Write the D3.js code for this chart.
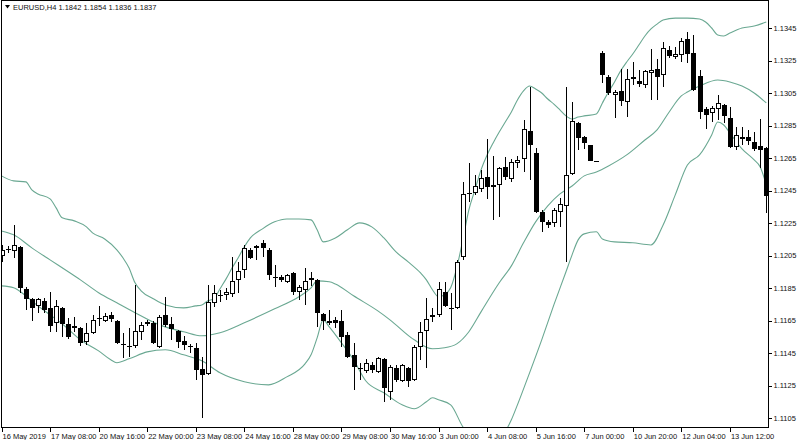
<!DOCTYPE html>
<html><head><meta charset="utf-8">
<script src="https://cdn.jsdelivr.net/npm/d3@7/dist/d3.min.js"></script>
<style>
body{margin:0;background:#fff}
svg{display:block}
text{font-family:Tahoma,"Liberation Sans",Arial,sans-serif;font-size:7.5px;fill:#111}
</style>
</head><body><svg id="c" width="800" height="440"></svg>
<script>
const title = "EURUSD,H4  1.1842 1.1854 1.1836 1.1837";
const xTickBars = [0,8,16,24,32,40,48,56,64,72,80,88,96,104,112,120];
const xTickLabels = ["16 May 2019","17 May 08:00","20 May 16:00","22 May 00:00","23 May 08:00","24 May 16:00","28 May 00:00","29 May 08:00","30 May 16:00","3 Jun 00:00","4 Jun 08:00","5 Jun 16:00","7 Jun 00:00","10 Jun 20:00","12 Jun 04:00","13 Jun 12:00"];
const yTicks = [1.1345,1.1325,1.1305,1.1285,1.1265,1.1245,1.1225,1.1205,1.1185,1.1165,1.1145,1.1125,1.1105];
// open, high, low, close per H4 bar
const ohlc = [
[1.12048,1.12115,1.12011,1.12085],[1.12091,1.12109,1.12067,1.12085],[1.12079,1.12238,1.12036,1.12115],[1.12103,1.12109,1.11821,1.11851],
[1.11845,1.11857,1.11716,1.11784],[1.11784,1.11790,1.11648,1.11728],[1.11740,1.11790,1.11698,1.11784],[1.11771,1.11790,1.11698,1.11716],
[1.11728,1.11827,1.11581,1.11617],[1.11636,1.11777,1.11581,1.11740],[1.11728,1.11734,1.11550,1.11629],[1.11629,1.11666,1.11538,1.11550],
[1.11605,1.11672,1.11581,1.11617],[1.11605,1.11611,1.11494,1.11513],[1.11519,1.11636,1.11501,1.11575],[1.11575,1.11685,1.11568,1.11654],
[1.11666,1.11740,1.11617,1.11660],[1.11648,1.11698,1.11642,1.11679],[1.11685,1.11703,1.11642,1.11660],[1.11648,1.11654,1.11506,1.11513],
[1.11507,1.11575,1.11421,1.11501],[1.11494,1.11605,1.11427,1.11488],[1.11494,1.11869,1.11482,1.11587],[1.11581,1.11642,1.11531,1.11623],
[1.11629,1.11654,1.11617,1.11642],[1.11636,1.11648,1.11506,1.11513],[1.11488,1.11685,1.11482,1.11672],[1.11685,1.11796,1.11611,1.11623],
[1.11629,1.11672,1.11531,1.11599],[1.11587,1.11593,1.11482,1.11519],[1.11525,1.11556,1.11470,1.11501],[1.11494,1.11506,1.11452,1.11488],
[1.11482,1.11513,1.11285,1.11347],[1.11353,1.11427,1.11051,1.11316],[1.11322,1.11869,1.11316,1.11765],[1.11759,1.11869,1.11734,1.11821],
[1.11808,1.11839,1.11765,1.11802],[1.11808,1.11851,1.11777,1.11827],[1.11814,1.12042,1.11796,1.11894],[1.11900,1.12011,1.11821,1.11956],
[1.11962,1.12115,1.11913,1.12097],[1.12085,1.12097,1.12030,1.12036],[1.12097,1.12115,1.12023,1.12109],[1.12128,1.12146,1.12042,1.12097],
[1.12085,1.12097,1.11900,1.11931],[1.11919,1.11993,1.11857,1.11913],[1.11919,1.11931,1.11888,1.11900],[1.11888,1.11937,1.11882,1.11931],
[1.11944,1.11950,1.11808,1.11827],[1.11827,1.11869,1.11777,1.11857],[1.11839,1.11974,1.11746,1.11894],[1.11900,1.11950,1.11863,1.11913],
[1.11900,1.11906,1.11611,1.11698],[1.11691,1.11698,1.11593,1.11648],[1.11636,1.11716,1.11623,1.11648],[1.11654,1.11672,1.11605,1.11636],
[1.11648,1.11716,1.11488,1.11550],[1.11562,1.11581,1.11421,1.11427],[1.11439,1.11513,1.11224,1.11365],[1.11359,1.11390,1.11285,1.11353],
[1.11341,1.11414,1.11329,1.11390],[1.11378,1.11396,1.11329,1.11347],[1.11335,1.11427,1.11329,1.11421],[1.11414,1.11421,1.11150,1.11236],
[1.11212,1.11378,1.11162,1.11365],[1.11359,1.11378,1.11273,1.11285],[1.11279,1.11384,1.11273,1.11378],[1.11359,1.11365,1.11242,1.11279],
[1.11285,1.11501,1.11279,1.11488],[1.11488,1.11642,1.11408,1.11581],[1.11587,1.11790,1.11359,1.11660],[1.11672,1.11728,1.11642,1.11685],
[1.11685,1.11888,1.11672,1.11845],[1.11827,1.11888,1.11734,1.11740],[1.11728,1.11821,1.11593,1.11722],[1.11728,1.12023,1.11722,1.12011],
[1.12042,1.12503,1.12023,1.12429],[1.12436,1.12620,1.12380,1.12429],[1.12436,1.12546,1.12423,1.12478],[1.12460,1.12577,1.12442,1.12528],
[1.12534,1.12768,1.12398,1.12472],[1.12484,1.12663,1.12269,1.12472],[1.12484,1.12595,1.12288,1.12589],[1.12595,1.12657,1.12515,1.12534],
[1.12521,1.12644,1.12503,1.12626],[1.12620,1.12663,1.12589,1.12638],[1.12644,1.12884,1.12565,1.12829],[1.12817,1.13087,1.12515,1.12730],
[1.12681,1.12712,1.12313,1.12319],[1.12319,1.12331,1.12196,1.12257],[1.12257,1.12269,1.12220,1.12238],[1.12251,1.12343,1.12226,1.12331],
[1.12319,1.12404,1.12226,1.12367],[1.12355,1.13087,1.12011,1.12546],[1.12552,1.12995,1.12546,1.12878],[1.12866,1.12872,1.12700,1.12774],
[1.12780,1.12786,1.12706,1.12743],[1.12730,1.12730,1.12632,1.12632],[1.12632,1.12632,1.12626,1.12626],[1.13297,1.13309,1.13112,1.13161],
[1.13149,1.13161,1.13038,1.13050],[1.13038,1.13069,1.12896,1.13056],[1.13063,1.13198,1.12970,1.13001],[1.12995,1.13198,1.12902,1.13136],
[1.13149,1.13241,1.13099,1.13136],[1.13124,1.13192,1.13087,1.13105],[1.13099,1.13192,1.13081,1.13186],[1.13173,1.13321,1.13007,1.13192],
[1.13198,1.13259,1.13007,1.13149],[1.13161,1.13364,1.13087,1.13327],[1.13315,1.13339,1.13265,1.13278],[1.13272,1.13333,1.13259,1.13290],
[1.13284,1.13388,1.13241,1.13370],[1.13382,1.13425,1.13235,1.13290],[1.13297,1.13407,1.13063,1.13069],[1.13155,1.13192,1.12890,1.12933],
[1.12952,1.12964,1.12829,1.12915],[1.12927,1.12970,1.12872,1.12958],[1.12952,1.13038,1.12884,1.12989],[1.12976,1.12983,1.12866,1.12909],
[1.12896,1.12964,1.12712,1.12718],[1.12718,1.12841,1.12700,1.12792],[1.12780,1.12841,1.12730,1.12768],[1.12780,1.12823,1.12730,1.12755],
[1.12749,1.12810,1.12694,1.12706],[1.12724,1.12890,1.12589,1.12700],[1.12712,1.12718,1.12313,1.12417]
];
// Bollinger bands: [bar index, price]
const upperBand = [[0,1.12540],[2,1.12509],[4,1.12503],[5,1.12454],[6,1.12429],[8,1.12398],[9,1.12343],[10,1.12282],[12,1.12263],[14,1.12226],[15,1.12189],[17,1.12152],[19,1.12085],[20,1.12036],[21,1.11974],[22,1.11882],[23,1.11833],[25,1.11784],[27,1.11746],[30,1.11728],[32,1.11740],[33,1.11746],[34,1.11771],[35,1.11784],[36,1.11845],[37,1.11906],[38,1.11974],[39,1.12036],[40,1.12103],[41,1.12158],[43,1.12214],[45,1.12257],[47,1.12275],[49,1.12275],[51,1.12269],[52,1.12208],[53,1.12134],[55,1.12158],[57,1.12208],[59,1.12251],[61,1.12226],[63,1.12158],[65,1.12072],[67,1.12011],[69,1.11944],[70,1.11900],[71,1.11839],[72,1.11796],[73,1.11808],[74,1.11851],[75,1.11974],[76,1.12146],[77,1.12331],[78,1.12454],[79,1.12577],[80,1.12669],[81,1.12743],[82,1.12810],[83,1.12872],[84,1.12933],[85,1.13007],[86,1.13063],[87,1.13093],[88,1.13075],[89,1.13050],[90,1.13013],[91,1.12982],[92,1.12946],[93,1.12909],[94,1.12890],[95,1.12902],[96,1.12909],[98,1.12921],[99,1.12989],[100,1.13056],[101,1.13118],[102,1.13186],[103,1.13241],[104,1.13290],[105,1.13345],[106,1.13401],[107,1.13444],[108,1.13474],[109,1.13499],[111,1.13511],[113,1.13511],[115,1.13505],[116,1.13487],[117,1.13450],[118,1.13407],[119,1.13401],[120,1.13419],[122,1.13450],[124,1.13462],[126,1.13487]];
const middleBand = [[0,1.12201],[2,1.12177],[5,1.12097],[8,1.12023],[11,1.11950],[13,1.11900],[16,1.11821],[19,1.11759],[22,1.11698],[26,1.11623],[30,1.11581],[33,1.11556],[36,1.11575],[40,1.11636],[45,1.11722],[49,1.11796],[51,1.11851],[52,1.11894],[54,1.11888],[55,1.11875],[58,1.11802],[62,1.11709],[64,1.11654],[68,1.11531],[71,1.11476],[73,1.11482],[75,1.11506],[77,1.11581],[79,1.11703],[82,1.11882],[84,1.11986],[86,1.12128],[88,1.12257],[90,1.12355],[92,1.12429],[94,1.12478],[96,1.12540],[98,1.12564],[100,1.12601],[103,1.12669],[106,1.12761],[108,1.12823],[110,1.12933],[112,1.13032],[113,1.13056],[115,1.13093],[118,1.13130],[120,1.13118],[122,1.13093],[124,1.13050],[126,1.12989]];
const lowerBand = [[0,1.11863],[2,1.11851],[4,1.11802],[6,1.11740],[8,1.11685],[10,1.11629],[13,1.11531],[16,1.11463],[18,1.11408],[19,1.11390],[21,1.11414],[24,1.11457],[27,1.11470],[30,1.11439],[33,1.11402],[36,1.11328],[40,1.11273],[44,1.11254],[47,1.11303],[50,1.11383],[51,1.11439],[52,1.11543],[53,1.11654],[54,1.11611],[56,1.11513],[58,1.11408],[60,1.11279],[63,1.11205],[66,1.11131],[68,1.11107],[70,1.11150],[71,1.11175],[72,1.11162],[74,1.11131],[76,1.10996],[78,1.10904],[80,1.10873],[82,1.10916],[84,1.11039],[85,1.11131],[87,1.11328],[89,1.11531],[91,1.11746],[93,1.11950],[94,1.12054],[95,1.12146],[96,1.12183],[98,1.12196],[99,1.12152],[101,1.12134],[104,1.12128],[107,1.12115],[109,1.12238],[111,1.12423],[113,1.12607],[115,1.12669],[117,1.12792],[118,1.12872],[119,1.12853],[120,1.12804],[122,1.12706],[124,1.12638],[125,1.12595],[126,1.12484]];

const svg = d3.select("#c");
const L = 1.5, R = 766.3, T = 1, B = 427, AX = 768;
const x = d3.scaleLinear().domain([0, ohlc.length - 1]).range([L, R]);
const y = d3.scaleLinear().domain([1.1345, 1.1105]).range([28, 418]);
const bandColor = "#6aa892";

svg.append("defs").append("clipPath").attr("id","plot")
  .append("rect").attr("x",1.5).attr("y",T).attr("width",AX-1.5).attr("height",B-T);

const plot = svg.append("g").attr("clip-path","url(#plot)");
const line = d3.line().x(d => x(d[0])).y(d => y(d[1])).curve(d3.curveMonotoneX);
[upperBand, middleBand, lowerBand].forEach(band => {
  plot.append("path").datum(band).attr("d", line)
    .attr("fill","none").attr("stroke",bandColor).attr("stroke-width",1.1);
});

const cg = plot.append("g").attr("shape-rendering","crispEdges");
ohlc.forEach((d, i) => {
  const [o, h, l, c] = d;
  const cx = Math.round(x(i)) + 0.5;
  cg.append("line").attr("x1",cx).attr("x2",cx).attr("y1",y(h)).attr("y2",y(l))
    .attr("stroke","#000").attr("stroke-width",1);
  const top = Math.round(y(Math.max(o,c))), bot = Math.round(y(Math.min(o,c)));
  if (bot - top < 2) {
    cg.append("line").attr("x1",cx-2.5).attr("x2",cx+2.5).attr("y1",top+0.5).attr("y2",top+0.5)
      .attr("stroke","#000");
  } else if (c < o) {
    cg.append("rect").attr("x",cx-2.5).attr("y",top).attr("width",5).attr("height",bot-top)
      .attr("fill","#000");
  } else {
    cg.append("rect").attr("x",cx-2).attr("y",top+0.5).attr("width",4).attr("height",bot-top-1)
      .attr("fill","#fff").attr("stroke","#000").attr("stroke-width",1);
  }
});

// frame
const fg = svg.append("g").attr("shape-rendering","crispEdges");
fg.append("line").attr("x1",1.5).attr("x2",1.5).attr("y1",T).attr("y2",B).attr("stroke","#000");
fg.append("line").attr("x1",1).attr("x2",AX).attr("y1",B+0.5).attr("y2",B+0.5).attr("stroke","#000");
fg.append("line").attr("x1",AX+0.5).attr("x2",AX+0.5).attr("y1",0).attr("y2",B+1).attr("stroke","#000");
fg.append("line").attr("x1",1).attr("x2",AX+1).attr("y1",0.5).attr("y2",0.5).attr("stroke","#000");

// y axis
const yAxis = svg.append("g").attr("transform",`translate(${AX+0.5},0)`)
  .call(d3.axisRight(y).tickValues(yTicks).tickFormat(d3.format(".4f")).tickSize(3).tickPadding(2).tickSizeOuter(0));
yAxis.select(".domain").remove();
yAxis.selectAll("line").attr("stroke","#000").attr("shape-rendering","crispEdges");
yAxis.selectAll("text").attr("fill","#111").style("font-size","7.5px");

// x axis
const xAxis = svg.append("g").attr("transform",`translate(0,${B+0.5})`)
  .call(d3.axisBottom(x).tickValues(xTickBars).tickFormat((d,i) => xTickLabels[i]).tickSize(4).tickPadding(2).tickSizeOuter(0));
xAxis.select(".domain").remove();
xAxis.selectAll("line").attr("stroke","#000").attr("shape-rendering","crispEdges");
xAxis.selectAll("text").attr("text-anchor","start").attr("dx","0.5").attr("fill","#111").style("font-size","7.5px");

// header
svg.append("path").attr("d","M5,5 L10,5 L7.5,8.5 Z").attr("fill","#000");
svg.append("text").attr("x",13).attr("y",10).text(title).style("font-size","7.5px");
</script>
</body></html>
